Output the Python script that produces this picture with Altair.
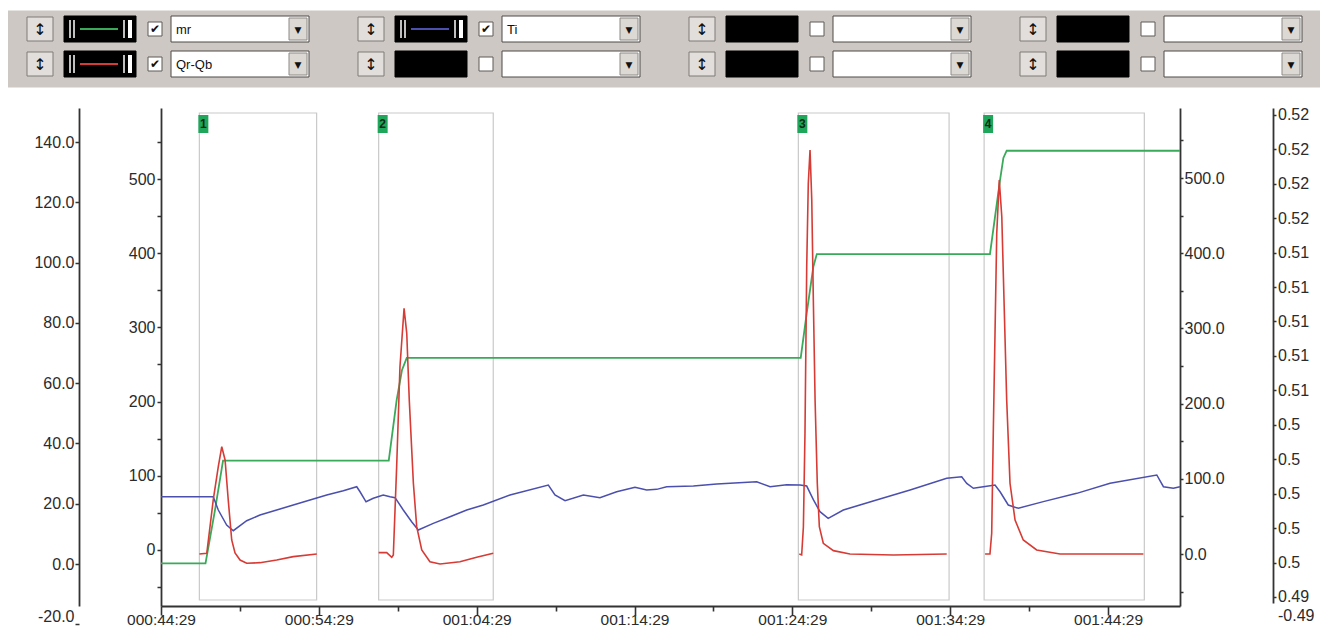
import altair as alt
import pandas as pd

# ---------------- data ----------------
GREEN = "#3aa95a"
RED = "#d63c35"
BLUE = "#4b4fae"
AX = "#333333"
TXT = "#2b2b2b"
FONT = "Liberation Sans"

# mr (green), minutes after 000:44:29
mr_t = [0.00, 2.82, 3.42, 3.93, 14.43, 14.93, 15.27, 15.57, 40.53, 40.91, 41.33, 41.55,
        52.52, 52.84, 53.16, 53.37, 53.58, 64.56]
mr_v = [0.2, 0.2, 17.9, 34.3, 34.3, 54.4, 64.4, 68.4, 68.4, 83.2, 98.6, 102.8,
        102.8, 115.2, 127.4, 134.7, 137.1, 137.1]

# Qr-Qb (red), one segment per marker window
qr1_t = [2.43, 2.90, 3.31, 3.63, 3.85, 4.06, 4.26, 4.48, 4.69, 5.01, 5.43, 6.27, 7.33, 8.38, 9.87]
qr1_v = [-5.4, -4.4, 67.4, 112.3, 139.2, 121.3, 67.4, 13.5, -4.0, -13.5, -17.9, -17.1, -13.5, -9.0, -5.4]
qr2_t = [13.79, 14.30, 14.62, 14.72, 14.93, 15.14, 15.40, 15.57, 15.73, 15.99, 16.20, 16.52,
         17.04, 17.68, 18.94, 20.00, 21.05]
qr2_v = [-3.6, -3.6, -9.8, -6.7, 112.3, 247.0, 325.7, 292.0, 202.0, 89.9, 31.4, 0.0,
         -15.8, -18.9, -15.8, -9.8, -4.4]
qr3_t = [40.44, 40.59, 40.70, 40.80, 40.91, 41.01, 41.12, 41.23, 41.33, 41.44, 41.58, 41.71,
         41.96, 42.60, 43.65, 46.40, 49.78]
qr3_v = [-5.4, -6.7, 31.4, 157.3, 381.8, 494.2, 539.1, 471.7, 336.9, 202.2, 89.9, 31.4,
         9.0, -0.9, -5.4, -6.7, -5.4]
qr4_t = [52.21, 52.52, 52.63, 52.73, 52.84, 52.95, 53.11, 53.27, 53.41, 53.58, 53.79, 54.11,
         54.63, 55.48, 56.96, 62.24]
qr4_v = [-5.4, -5.4, 22.5, 157.3, 292.0, 426.8, 498.7, 449.2, 336.9, 202.2, 89.9, 40.4,
         13.5, 0.0, -5.4, -5.4]

# Ti (blue)
ti_t = [0.00, 3.31, 3.63, 4.16, 4.58, 5.43, 6.27, 7.33, 8.38, 9.44, 10.50, 11.55, 12.40, 12.61,
        12.99, 13.45, 14.08, 14.51, 14.83, 15.35, 15.88, 16.30, 17.25, 18.31, 19.37, 20.42,
        22.11, 24.54, 24.96, 25.60, 26.76, 27.81, 28.87, 30.03, 30.77, 31.41, 32.04, 33.73,
        35.21, 37.74, 38.59, 39.64, 40.49, 40.91, 41.33, 41.75, 42.27, 43.23, 45.33, 47.46,
        49.78, 50.73, 51.05, 51.47, 52.10, 52.84, 53.16, 53.68, 54.32, 55.90, 58.02, 60.13,
        63.09, 63.51, 64.14, 64.56]
ti_v = [76.2, 76.2, 58.5, 38.6, 31.0, 44.3, 51.9, 58.5, 65.2, 71.8, 78.5, 84.2, 89.5, 82.8,
        69.5, 74.1, 78.5, 76.2, 74.9, 58.5, 43.0, 31.9, 40.8, 49.6, 58.5, 65.2,
        78.5, 91.8, 78.5, 70.9, 78.5, 74.9, 82.8, 88.7, 85.1, 86.0, 89.5, 90.4,
        93.1, 96.1, 89.5, 92.0, 91.8, 90.4, 72.3, 56.3, 47.5, 58.5, 71.8, 85.1,
        100.7, 102.8, 94.0, 87.4, 89.5, 91.8, 82.8, 65.2, 60.8, 69.7, 80.7, 94.0,
        105.1, 89.5, 87.4, 89.5]

# marker windows
marker_id = ["1", "2", "3", "4"]
marker_start = [2.43, 13.79, 40.38, 52.15]
marker_end = [9.86, 21.05, 49.93, 62.30]

# axes
x_major = [0, 10, 20, 30, 40, 50, 60]
x_minor = [5, 15, 25, 35, 45, 55]
mr_ticks = [-20, 0, 20, 40, 60, 80, 100, 120, 140]
qr_ticks = [-50, 0, 50, 100, 150, 200, 250, 300, 350, 400, 450, 500, 550]
ti_ticks = [-50, 0, 50, 100, 150, 200, 250, 300, 350, 400, 450, 500, 550]
aux_labels = ["0.49", "0.5", "0.5", "0.5", "0.5", "0.5", "0.51", "0.51", "0.51", "0.51",
              "0.51", "0.52", "0.52", "0.52", "0.52"]
aux_extra_label = "-0.49"

# toolbar slots (row 1 then row 2, four columns)
slot_names = ["mr", "Ti", "", "", "Qr-Qb", "", "", ""]
slot_colors = [GREEN, BLUE, None, None, RED, None, None, None]

# ---------------- layout ----------------
W, H = 1019, 498
PAD = {"left": 153, "top": 100, "right": 140, "bottom": 20}
T = alt.Scale(domain=[0, 64.56], nice=False, zero=False)
PX = alt.Scale(domain=[0, 1328], range=[-161, 1167], nice=False, zero=False)
PY = alt.Scale(domain=[0, 640], range=[-108, 532], nice=False, zero=False)

# ---------------- toolbar ----------------
col_x = [0, 331, 662, 993]
row_y = [29, 64]
rects, texts, rules = [], [], []
rects.append(dict(x0=0, x1=1328, y0=11, y1=87, fill="#cdc8c3", stroke="#cdc8c3"))
for k in range(8):
    c = col_x[k % 4]
    cy = row_y[k // 4]
    name = slot_names[k]
    col = slot_colors[k]
    rects.append(dict(x0=c + 27, x1=c + 53, y0=cy - 12, y1=cy + 12, fill="#e2dedb", stroke="#7e7a76"))
    rects.append(dict(x0=c + 64, x1=c + 136, y0=cy - 13, y1=cy + 13, fill="#000000", stroke="#000000"))
    rects.append(dict(x0=c + 148, x1=c + 162, y0=cy - 7, y1=cy + 7, fill="#ffffff", stroke="#5e5a57"))
    rects.append(dict(x0=c + 171, x1=c + 309, y0=cy - 13, y1=cy + 13, fill="#ffffff", stroke="#4e4a47"))
    rects.append(dict(x0=c + 289, x1=c + 307, y0=cy - 11, y1=cy + 11, fill="#dcd8d4", stroke="#8e8a86"))
    texts.append(dict(x=c + 40, y=cy + 1, t="\u2195", size=16, font="DejaVu Sans", color="#111111", align="center"))
    texts.append(dict(x=c + 298, y=cy + 1, t="\u25bc", size=9, font="DejaVu Sans", color="#111111", align="center"))
    if col is not None:
        texts.append(dict(x=c + 155, y=cy, t="\u2714", size=12, font="DejaVu Sans", color="#111111", align="center"))
        texts.append(dict(x=c + 176, y=cy + 1, t=name, size=13, font=FONT, color="#111111", align="left"))
        for bx, bw in [(c + 70, 1.5), (c + 74, 1.5), (c + 124, 1.5), (c + 130, 4)]:
            rules.append(dict(x0=bx, x1=bx, y0=cy - 9, y1=cy + 9, w=bw, color="#ffffff"))
        rules.append(dict(x0=c + 80, x1=c + 118, y0=cy, y1=cy, w=2, color=col))

rect_df = pd.DataFrame(rects)
text_df = pd.DataFrame(texts)
rule_df = pd.DataFrame(rules)

tb_rects = alt.Chart(rect_df).mark_rect(strokeWidth=1).encode(
    x=alt.X("x0:Q", scale=PX, axis=None), x2="x1:Q",
    y=alt.Y("y0:Q", scale=PY, axis=None), y2="y1:Q",
    fill=alt.Fill("fill:N", scale=None), stroke=alt.Stroke("stroke:N", scale=None))
tb_rules = alt.Chart(rule_df).mark_rule().encode(
    x=alt.X("x0:Q", scale=PX, axis=None), x2="x1:Q",
    y=alt.Y("y0:Q", scale=PY, axis=None), y2="y1:Q",
    strokeWidth=alt.StrokeWidth("w:Q", scale=None), color=alt.Color("color:N", scale=None))
tb_text_layers = []
for (fnt, al), sub in text_df.groupby(["font", "align"]):
    tb_text_layers.append(alt.Chart(sub).mark_text(font=fnt, align=al, baseline="middle").encode(
        x=alt.X("x:Q", scale=PX, axis=None), y=alt.Y("y:Q", scale=PY, axis=None),
        text="t:N", size=alt.Size("size:Q", scale=None), color=alt.Color("color:N", scale=None)))
toolbar = alt.layer(tb_rects, tb_rules, *tb_text_layers)

# ---------------- main plot ----------------
x_axis = alt.Axis(orient="bottom", values=x_major, title=None, grid=False,
                  labelExpr="'00' + floor((44 + datum.value) / 60) + ':' + "
                            "(((44 + datum.value) % 60) < 10 ? '0' : '') + ((44 + datum.value) % 60) + ':29'",
                  tickSize=9, tickWidth=1.6, tickColor=AX, domainColor=AX, domainWidth=1.8,
                  labelFont=FONT, labelFontSize=15.5, labelColor=TXT, labelBaseline="alphabetic",
                  labelPadding=9, labelOverlap=False, labelFlush=False)


def X(field):
    return alt.X(field, scale=T, axis=x_axis)


green_df = pd.DataFrame({"t": mr_t, "v": mr_v})
red_df = pd.concat([
    pd.DataFrame({"t": qr1_t, "v": qr1_v, "seg": "1"}),
    pd.DataFrame({"t": qr2_t, "v": qr2_v, "seg": "2"}),
    pd.DataFrame({"t": qr3_t, "v": qr3_v, "seg": "3"}),
    pd.DataFrame({"t": qr4_t, "v": qr4_v, "seg": "4"}),
], ignore_index=True)
blue_df = pd.DataFrame({"t": ti_t, "v": ti_v})
marker_df = pd.DataFrame({"id": marker_id, "start": marker_start, "end": marker_end})
aux_df = pd.DataFrame({"i": list(range(len(aux_labels)))})

label_common = dict(labelFont=FONT, labelFontSize=16, labelColor=TXT, tickColor=AX, domainColor=AX,
                    tickWidth=1.5, domainWidth=1.8, grid=False, title=None, labelOverlap=False,
                    labelFlush=False)

mr_axis = alt.Axis(orient="left", offset=82, values=mr_ticks, tickSize=4, labelPadding=1,
                   labelExpr="(datum.value < 0 ? '-' : '') + format(abs(datum.value), '.1f')",
                   domainDash=[0, 18.3, 1000],
                   labelBaseline={"condition": {"test": "datum.value < -10", "value": "bottom"},
                                  "value": "middle"},
                   **label_common)
qr_axis = alt.Axis(orient="left", offset=0, values=qr_ticks, tickSize=4, labelPadding=2,
                   labelExpr="datum.value % 100 == 0 ? format(datum.value, 'd') : ''", **label_common)
ti_axis = alt.Axis(orient="right", offset=0, values=ti_ticks, tickSize=3, labelPadding=1,
                   labelExpr="datum.value % 100 == 0 ? format(datum.value, '.1f') : ''", **label_common)
aux_arr = "[" + ",".join("'" + s + "'" for s in aux_labels) + "]"
aux_axis = alt.Axis(orient="right", offset=93, values=[-0.784] + list(range(len(aux_labels))),
                    tickSize=3, labelPadding=1.5, domainDash=[0, 21.5, 1000],
                    labelExpr="datum.value < 0 ? '" + aux_extra_label + "' : " + aux_arr + "[datum.value]",
                    tickOpacity={"condition": {"test": "datum.value < 0", "value": 0}, "value": 1},
                    labelBaseline={"condition": {"test": "datum.value < 0", "value": "bottom"},
                                   "value": "middle"},
                    **label_common)

boxes = alt.Chart(marker_df).mark_rect(fillOpacity=0, stroke="#c9c9c9", strokeWidth=1.2).encode(
    x=X("start:Q"), x2="end:Q", y=alt.value(5), y2=alt.value(492))
green = alt.Chart(green_df).mark_line(color=GREEN, strokeWidth=1.8).encode(
    x=X("t:Q"),
    y=alt.Y("v:Q", scale=alt.Scale(domain=[-20, 151.28], range=[516.3, 0], nice=False, zero=False),
            axis=mr_axis))
blue = alt.Chart(blue_df).mark_line(color=BLUE, strokeWidth=1.5).encode(
    x=X("t:Q"),
    y=alt.Y("v:Q", scale=alt.Scale(domain=[-69.1, 593.1], nice=False, zero=False), axis=ti_axis))
red = alt.Chart(red_df).mark_line(color=RED, strokeWidth=1.6).encode(
    x=X("t:Q"),
    y=alt.Y("v:Q", scale=alt.Scale(domain=[-75.5, 595.7], nice=False, zero=False), axis=qr_axis),
    detail="seg:N")
aux = alt.Chart(aux_df).mark_point(opacity=0).encode(
    y=alt.Y("i:Q", scale=alt.Scale(domain=[-0.8, 14.2], range=[516.5, 0], nice=False, zero=False),
            axis=aux_axis))
tags = alt.Chart(marker_df).mark_rect(fill="#1fa65a", xOffset=-1, x2Offset=9).encode(
    x=X("start:Q"), x2="start:Q", y=alt.value(7), y2=alt.value(25))
tag_text = alt.Chart(marker_df).mark_text(font=FONT, fontSize=12, fontWeight="bold", color="#0d2a15",
                                          dx=4, baseline="middle").encode(
    x=X("start:Q"), y=alt.value(16), text="id:N")

main = alt.layer(boxes, green, blue, red, aux, tags, tag_text).resolve_scale(y="independent")

minor = alt.Chart(pd.DataFrame({"t": x_minor})).mark_point(opacity=0).encode(
    x=alt.X("t:Q", scale=T, axis=alt.Axis(orient="bottom", values=x_minor, labels=False, domain=False,
                                          tickSize=5, tickWidth=1.6, tickColor=AX, grid=False,
                                          title=None)))

chart = alt.layer(toolbar, main, minor).resolve_scale(x="independent", y="independent").properties(
    width=W, height=H, padding=PAD, autosize=alt.AutoSizeParams(type="none"),
    background="#ffffff"
).configure_view(stroke=None)

chart.save("out.html", embed_options={"renderer": "svg", "actions": False})
